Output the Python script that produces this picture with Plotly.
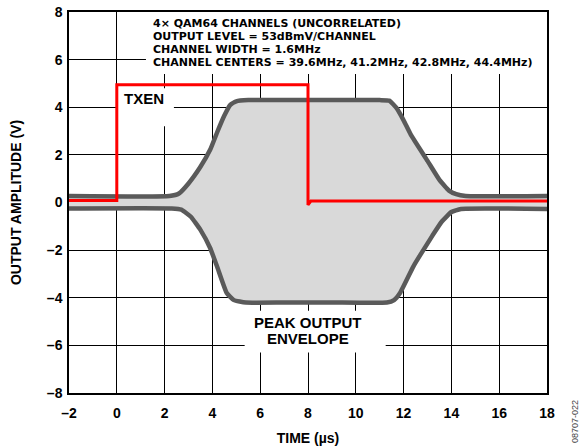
import plotly.graph_objects as go

# ---- axis ticks ----
x_ticks = [-2, 0, 2, 4, 6, 8, 10, 12, 14, 16, 18]
x_tick_labels = ["–2", "0", "2", "4", "6", "8", "10", "12", "14", "16", "18"]
y_ticks = [-8, -6, -4, -2, 0, 2, 4, 6, 8]
y_tick_labels = ["–8", "–6", "–4", "–2", "0", "2", "4", "6", "8"]

# ---- peak output envelope (upper edge) ----
env_upper_t = [-2, 2.2, 2.6, 3.0, 3.5, 3.9, 4.2, 4.5, 4.75, 5.0, 5.5, 7.0, 9.0,
               11.0, 11.4, 11.7, 12.0, 12.3, 13.0, 13.5, 13.9, 14.2, 14.6, 18]
env_upper_v = [0.27, 0.27, 0.38, 0.8, 1.5, 2.2, 2.95, 3.65, 4.1, 4.25, 4.3, 4.3, 4.3,
               4.3, 4.28, 3.97, 3.45, 2.85, 1.75, 0.95, 0.5, 0.35, 0.27, 0.27]

# ---- peak output envelope (lower edge) ----
env_lower_t = [-2, 2.3, 2.7, 3.1, 3.5, 3.9, 4.2, 4.6, 4.9, 5.4, 7.0, 9.0,
               11.3, 11.6, 11.85, 12.4, 12.7, 13.2, 13.6, 14.0, 14.4, 18]
env_lower_v = [-0.25, -0.25, -0.3, -0.6, -1.15, -1.9, -2.7, -3.8, -4.1, -4.2, -4.2, -4.2,
               -4.2, -4.1, -3.8, -2.7, -2.2, -1.4, -0.8, -0.4, -0.27, -0.27]

# ---- TXEN control signal ----
txen_t = [-2, 0, 0, 8, 8, 8.12, 18]
txen_v = [0.08, 0.08, 4.95, 4.95, -0.1, 0.06, 0.06]

# ---- text ----
info_lines = ["4× QAM64 CHANNELS (UNCORRELATED)",
              "OUTPUT LEVEL = 53dBmV/CHANNEL",
              "CHANNEL WIDTH = 1.6MHz",
              "CHANNEL CENTERS = 39.6MHz, 41.2MHz, 42.8MHz, 44.4MHz)"]
info_y = [7.5, 6.96, 6.41, 5.87]
peak_lines = ["PEAK OUTPUT", "ENVELOPE"]
peak_y = [-5.02, -5.73]

FONT = "Liberation Sans, Arial, sans-serif"
INFO_FONT = "DejaVu Sans, Liberation Sans, sans-serif"
ENV_FILL = "#d9d9d9"
ENV_LINE = "#5a5a5a"

fig = go.Figure()

fig.add_trace(go.Scatter(
    x=env_upper_t + env_lower_t[::-1],
    y=env_upper_v + env_lower_v[::-1],
    fill="toself", fillcolor=ENV_FILL, mode="lines",
    line=dict(width=0, color=ENV_FILL), hoverinfo="skip", showlegend=False))

for t, v in ((env_upper_t, env_upper_v), (env_lower_t, env_lower_v)):
    fig.add_trace(go.Scatter(
        x=t, y=v, mode="lines",
        line=dict(color=ENV_LINE, width=4.5, shape="spline", smoothing=0.4),
        showlegend=False))

fig.add_trace(go.Scatter(
    x=txen_t, y=txen_v, mode="lines",
    line=dict(color="#ff0000", width=3), showlegend=False))

# white label backgrounds (cover grid only)
boxes = [(1.22, 18, 5.4, 8), (0.05, 2.39, 3.2, 4.8), (5.35, 11.25, -6.3, -4.55)]
for x0, x1, y0, y1 in boxes:
    fig.add_shape(type="rect", x0=x0, x1=x1, y0=y0, y1=y1, layer="between",
                  fillcolor="white", line=dict(width=0))

for txt, yy in zip(info_lines, info_y):
    fig.add_annotation(x=1.43, y=yy, text=f"<b>{txt}</b>", showarrow=False, xanchor="left",
                       yanchor="middle", font=dict(family=INFO_FONT, size=11, color="black"))

fig.add_annotation(x=1.15, y=4.35, text="<b>TXEN</b>", showarrow=False,
                   font=dict(family=FONT, size=15, color="black"))
for txt, yy in zip(peak_lines, peak_y):
    fig.add_annotation(x=8.0, y=yy, text=f"<b>{txt}</b>", showarrow=False,
                       font=dict(family=FONT, size=15, color="black"))
fig.add_annotation(x=1.0586, y=-0.076, xref="paper", yref="paper", text="08707-022",
                   showarrow=False, textangle=-90, xanchor="center", yanchor="middle",
                   font=dict(family=FONT, size=9, color="#444444"))

axis_common = dict(showgrid=True, gridcolor="black", gridwidth=1, zeroline=False,
                   showline=True, linecolor="black", linewidth=1.5, mirror=True,
                   ticks="", automargin=False, ticklabeloverflow="allow",
                   tickfont=dict(family=FONT, size=14, color="black"))

fig.update_xaxes(range=[-2, 18], tickvals=x_ticks, ticktext=[f"<b>{s}</b>" for s in x_tick_labels],
                 title=dict(text="<b>TIME (µs)</b>", font=dict(family=FONT, size=14, color="black"),
                            standoff=14),
                 ticklabelstandoff=6, **axis_common)
fig.update_yaxes(range=[-8, 8], tickvals=y_ticks, ticktext=[f"<b>{s}</b>" for s in y_tick_labels],
                 title=dict(text="<b>OUTPUT AMPLITUDE (V)</b>", font=dict(family=FONT, size=14, color="black"),
                            standoff=22),
                 ticklabelstandoff=2, **axis_common)

fig.update_layout(width=581, height=448, margin=dict(l=69, r=34, t=12, b=55),
                  plot_bgcolor="white", paper_bgcolor="white",
                  font=dict(family=FONT, color="black"))

# remove the default 8px page margin so the figure fills the window exactly
fig.write_html("out.html", config={"displayModeBar": False},
               post_script="document.body.style.margin='0px';document.body.style.overflow='hidden';")
